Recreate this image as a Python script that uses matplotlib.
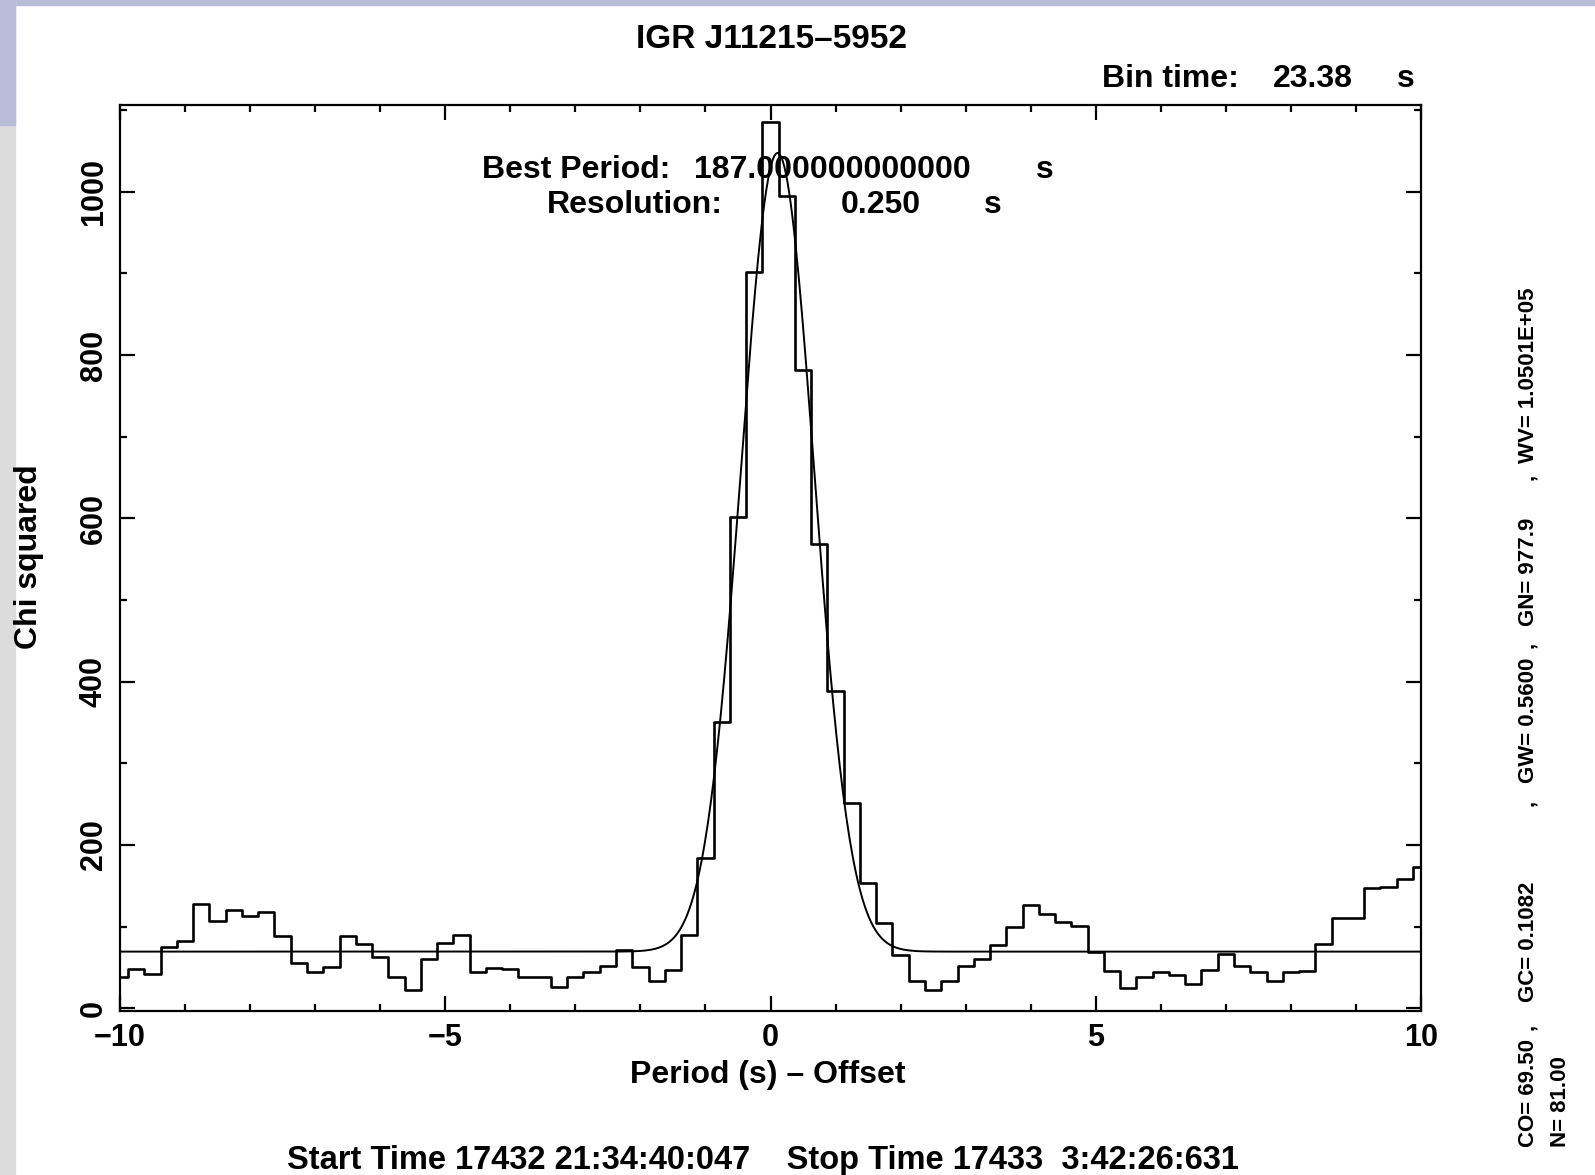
import numpy as np
import matplotlib
matplotlib.use('Agg')
import matplotlib.pyplot as plt
from matplotlib.patches import Rectangle
from matplotlib.ticker import MultipleLocator

# Chi squared per trial period (offset from 187 s, 0.25 s resolution)
period_offset = np.arange(-10, 10.001, 0.25)
chi_squared = [38, 48, 42, 75, 83, 128, 107, 120, 113, 118,
               89, 56, 44, 51, 89, 79, 63, 38, 22, 61,
               80, 90, 45, 50, 48, 38, 39, 26, 39, 44,
               52, 72, 51, 33, 47, 90, 184, 350, 602, 902,
               1085, 995, 781, 568, 388, 252, 154, 104, 65, 34,
               22, 34, 52, 61, 77, 100, 126, 115, 106, 101,
               69, 46, 25, 38, 45, 41, 30, 47, 66, 52,
               44, 33, 44, 46, 79, 111, 111, 147, 149, 159,
               173]

# Gaussian fit parameters printed on the plot
fit_co = 69.50
fit_gc = 0.1082
fit_gw = 0.5600
fit_gn = 977.9

W, H = 1595, 1175
FONT = ['Liberation Sans Narrow', 'Liberation Sans', 'DejaVu Sans']
plt.rcParams['font.family'] = FONT
plt.rcParams['font.weight'] = 'bold'
plt.rcParams['axes.labelweight'] = 'bold'

fig = plt.figure(figsize=(W / 100, H / 100), dpi=100)

# slide background strips (pixel boxes: x, y from top, width, height)
for (x0, y0, w, h, c) in [(0, 0, W, 5, '#b9bdd9'),
                          (0, 0, 15, H, '#dcdcdc'),
                          (0, 0, 15, 125, '#b9bdd9')]:
    fig.patches.append(Rectangle((x0 / W, 1 - (y0 + h) / H), w / W, h / H,
                                 transform=fig.transFigure, color=c, zorder=-5))

def px(x, y):
    return x / W, 1 - y / H

left, right, top, bottom = 120, 1421, 105, 1010.5
ax = fig.add_axes([left / W, 1 - bottom / H, (right - left) / W, (bottom - top) / H])
ax.patch.set_alpha(0)

ax.step(period_offset, chi_squared, where='mid', color='black', lw=1.9)

xf = np.linspace(-10, 10, 800)
ax.plot(xf, fit_co + fit_gn * np.exp(-0.5 * ((xf - fit_gc) / fit_gw) ** 2),
        color='black', lw=1.4)

ax.set_xlim(-10, 10)
ax.set_ylim(-2.6, 1106)
ax.xaxis.set_major_locator(MultipleLocator(5))
ax.xaxis.set_minor_locator(MultipleLocator(1))
ax.yaxis.set_major_locator(MultipleLocator(200))
ax.yaxis.set_minor_locator(MultipleLocator(100))
ax.tick_params(which='both', direction='in', top=True, right=True, width=1.6, labelsize=22)
ax.tick_params(which='major', length=11)
ax.tick_params(which='minor', length=5)
ax.tick_params(axis='x', pad=9)
ax.tick_params(axis='y', pad=8, labelrotation=90)
for lab in ax.get_yticklabels():
    lab.set_va('center')
for s in ax.spines.values():
    s.set_linewidth(1.6)

ax.set_xlabel('Period (s) – Offset', fontsize=23)
ax.xaxis.set_label_coords((768 - left) / (right - left), (bottom - 1075) / (bottom - top))
ax.xaxis.label.set_va('center')
ax.set_ylabel('Chi squared', fontsize=23)
ax.yaxis.set_label_coords((29 - left) / (right - left), (bottom - 557) / (bottom - top))
ax.yaxis.label.set_va('center')

fig.text(*px(771, 39), 'IGR J11215–5952', fontsize=24, ha='center', va='center')
fig.text(*px(1102, 79), 'Bin time:', fontsize=23, ha='left', va='center')
fig.text(*px(1353, 79), '23.38', fontsize=23, ha='right', va='center')
fig.text(*px(1406, 79), 's', fontsize=23, ha='center', va='center')
fig.text(*px(482, 170), 'Best Period:', fontsize=23, ha='left', va='center')
fig.text(*px(971, 170), '187.000000000000', fontsize=23, ha='right', va='center')
fig.text(*px(1045, 170), 's', fontsize=23, ha='center', va='center')
fig.text(*px(547, 205), 'Resolution:', fontsize=23, ha='left', va='center')
fig.text(*px(921, 205), '0.250', fontsize=23, ha='right', va='center')
fig.text(*px(993, 205), 's', fontsize=23, ha='center', va='center')
fig.text(*px(763, 1160), 'Start Time 17432 21:34:40:047    Stop Time 17433  3:42:26:631',
         fontsize=23.5, ha='center', va='center')

fit_labels = [('CO= 69.50', 1147), (',', 1030), ('GC= 0.1082', 1002),
              (',', 806), ('GW= 0.5600', 783), (',', 648), ('GN= 977.9', 626),
              (',', 480), ('WV= 1.0501E+05', 463)]
for txt, yb in fit_labels:
    fig.text(*px(1528, yb), txt, fontsize=16, rotation=90, ha='center', va='bottom')
fig.text(*px(1561, 1147), 'N= 81.00', fontsize=16, rotation=90, ha='center', va='bottom')

fig.savefig('out.png', dpi=100)
